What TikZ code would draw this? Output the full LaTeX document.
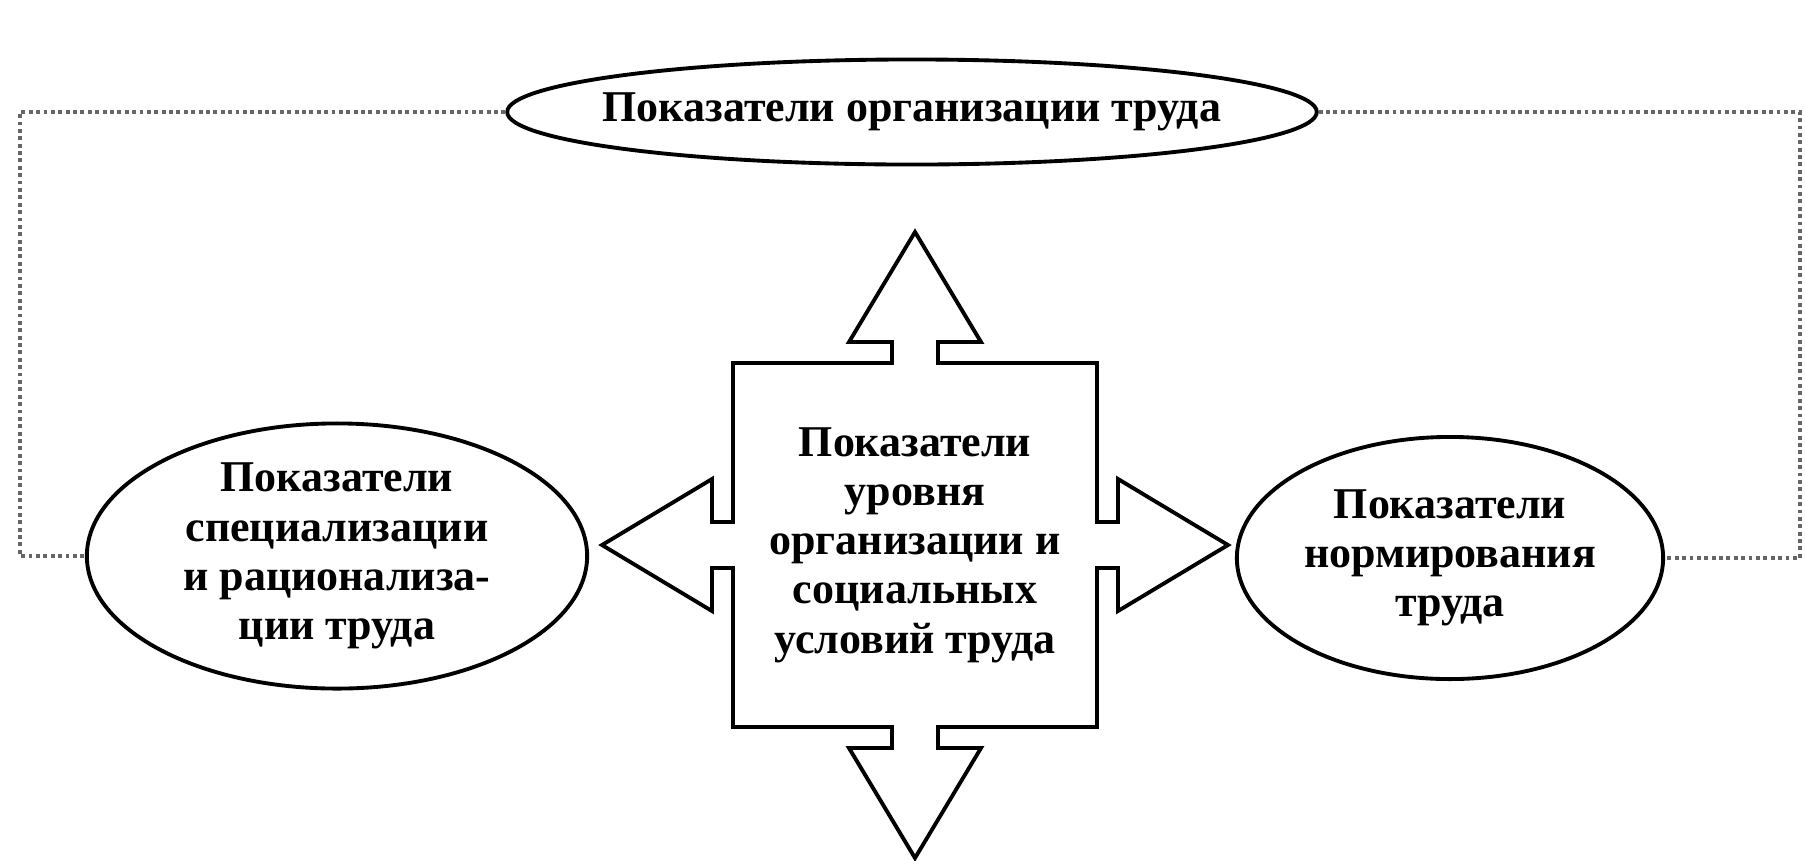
\documentclass[tikz,border=0pt]{standalone}
\usepackage{fontspec}
\setmainfont{Liberation Serif}
\usetikzlibrary{shapes.geometric}

\tikzset{
  oval/.style={draw, ellipse, line width=1.1pt, inner sep=0pt, align=center,
    font=\fontsize{12.5}{14}\selectfont\bfseries},
  link/.style={densely dotted, line width=1.1pt, black!60},
}

\begin{document}
\begin{tikzpicture}[x=0.01cm, y=-0.01cm]
            \useasboundingbox (0, 0) rectangle (1805, 860);
            \node[oval, inner xsep=-0.23cm, minimum width=7.15cm, minimum height=1.05cm] (org) at (912, 112) {Показатели организации труда};
            \node[oval, minimum width=5.0cm, minimum height=2.65cm] (spec) at (337, 556) {Показатели\\специализации\\и рационализа-\\ции труда};
            \node[oval, minimum width=4.26cm, minimum height=2.42cm] (norm) at (1450, 558) {Показатели\\нормирования\\труда};

            % cross with four arrows
            \draw[line width=1.1pt] (915, 232) -- (981, 342) -- (938, 342) -- (938, 363) -- (1097, 363)
                -- (1097, 522) -- (1118, 522) -- (1118, 479) -- (1228, 545) -- (1118, 611) -- (1118, 568) -- (1097, 568)
                -- (1097, 727) -- (938, 727) -- (938, 748) -- (981, 748) -- (915, 858) -- (849, 748) -- (892, 748) -- (892, 727)
                -- (733, 727) -- (733, 568) -- (712, 568) -- (712, 611) -- (602, 545) -- (712, 479) -- (712, 522) -- (733, 522)
                -- (733, 363) -- (892, 363) -- (892, 342) -- (849, 342) -- cycle;
            \node[align=center, font=\fontsize{12.5}{14}\selectfont\bfseries] (level) at (915, 545) {Показатели\\уровня\\организации и\\социальных\\условий труда};

            \coordinate (cornerL) at (20, 112);
            \coordinate (cornerR) at (1800, 112);
            \draw[link] (org.west) -- (cornerL) |- (spec.west);
            \draw[link] (org.east) -- (cornerR) |- (norm.east);
        \end{tikzpicture}
\end{document}
